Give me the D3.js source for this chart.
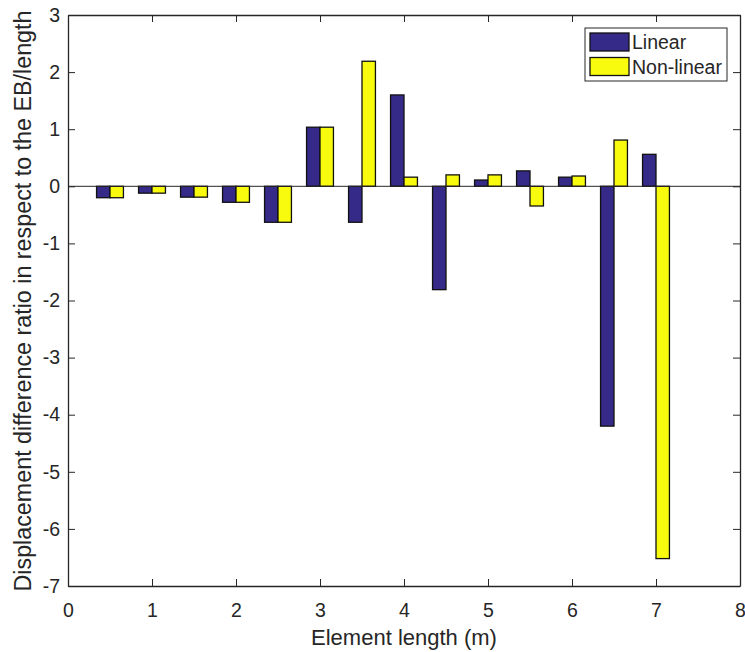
<!DOCTYPE html>
<html>
<head>
<meta charset="utf-8">
<script src="https://cdn.jsdelivr.net/npm/d3@7"></script>
<style>
  body { margin: 0; background: #fff; }
  text { font-family: "Liberation Sans", Arial, Helvetica, sans-serif; fill: #262626; }
</style>
</head>
<body>
<svg id="chart" width="745" height="652"></svg>
<script>
const categories = [0.5, 1.0, 1.5, 2.0, 2.5, 3.0, 3.5, 4.0, 4.5, 5.0, 5.5, 6.0, 6.5, 7.0];
const linearValues = [-0.2, -0.12, -0.19, -0.28, -0.63, 1.035, -0.63, 1.6, -1.81, 0.11, 0.27, 0.16, -4.2, 0.56];
const nonLinearValues = [-0.2, -0.12, -0.19, -0.28, -0.63, 1.035, 2.19, 0.16, 0.2, 0.2, -0.345, 0.18, 0.81, -6.52];
const seriesNames = ["Linear", "Non-linear"];
const seriesColors = ["#352a87", "#f9fb0e"];
const xTicks = [0, 1, 2, 3, 4, 5, 6, 7, 8];
const yTicks = [-7, -6, -5, -4, -3, -2, -1, 0, 1, 2, 3];
const xLabel = "Element length (m)";
const yLabel = "Displacement difference ratio in respect to the EB/length";

const svg = d3.select("#chart");
const mLeft = 68, mRight = 740, mTop = 15, mBottom = 586;

const x = d3.scaleLinear().domain([0, 8]).range([mLeft, mRight]);
const y = d3.scaleLinear().domain([-7, 3]).range([mBottom, mTop]);

const barW = 0.16; // bar width in data units
const series = [linearValues, nonLinearValues];

const g = svg.append("g");

// bars
series.forEach((vals, si) => {
  g.selectAll(".bar" + si)
    .data(categories.map((c, i) => ({ c, v: vals[i] })))
    .enter().append("rect")
    .attr("x", d => x(d.c + (si === 0 ? -barW : 0)))
    .attr("width", x(barW) - x(0))
    .attr("y", d => y(Math.max(0, d.v)))
    .attr("height", d => Math.abs(y(d.v) - y(0)))
    .attr("fill", seriesColors[si])
    .attr("stroke", "#111")
    .attr("stroke-width", 1.3);
});

// baseline at 0
g.append("line")
  .attr("x1", x(0)).attr("x2", x(8))
  .attr("y1", y(0)).attr("y2", y(0))
  .attr("stroke", "#262626").attr("stroke-width", 1);

// axes
const tickLen = 7;
const fmt = d => String(d);
const xAxisB = d3.axisBottom(x).tickValues(xTicks).tickSizeInner(-tickLen).tickSizeOuter(0).tickPadding(17).tickFormat(fmt);
const xAxisT = d3.axisTop(x).tickValues(xTicks).tickSizeInner(-tickLen).tickSizeOuter(0).tickFormat("");
const yAxisL = d3.axisLeft(y).tickValues(yTicks).tickSizeInner(-tickLen).tickSizeOuter(0).tickPadding(8).tickFormat(fmt);
const yAxisR = d3.axisRight(y).tickValues(yTicks).tickSizeInner(-tickLen).tickSizeOuter(0).tickFormat("");

function styleAxis(sel) {
  sel.select(".domain").attr("stroke", "#262626").attr("stroke-width", 1.3);
  sel.selectAll(".tick line").attr("stroke", "#262626");
  sel.selectAll(".tick text").attr("fill", "#262626").style("font-size", "19.5px")
     .style("font-family", "'Liberation Sans', Arial, sans-serif");
}

svg.append("g").attr("transform", `translate(0,${mBottom})`).call(xAxisB).call(styleAxis);
svg.append("g").attr("transform", `translate(0,${mTop})`).call(xAxisT).call(styleAxis);
svg.append("g").attr("transform", `translate(${mLeft},0)`).call(yAxisL).call(styleAxis);
svg.append("g").attr("transform", `translate(${mRight},0)`).call(yAxisR).call(styleAxis);

// labels
svg.append("text")
  .attr("x", (mLeft + mRight) / 2).attr("y", 645)
  .attr("text-anchor", "middle")
  .style("font-size", "22px")
  .text(xLabel);

svg.append("text")
  .attr("transform", `translate(31,301) rotate(-90)`)
  .attr("text-anchor", "middle")
  .style("font-size", "23.3px")
  .text(yLabel);

// legend
const lg = svg.append("g").attr("transform", "translate(585,28)");
lg.append("rect").attr("width", 142).attr("height", 53)
  .attr("fill", "#fff").attr("stroke", "#262626").attr("stroke-width", 1);
seriesNames.forEach((name, i) => {
  lg.append("rect")
    .attr("x", 5).attr("y", 5 + i * 24.5)
    .attr("width", 39).attr("height", 18)
    .attr("fill", seriesColors[i]).attr("stroke", "#111").attr("stroke-width", 1.3);
  lg.append("text")
    .attr("x", 47).attr("y", 21 + i * 24.5)
    .style("font-size", "19.5px")
    .text(name);
});
</script>
</body>
</html>
